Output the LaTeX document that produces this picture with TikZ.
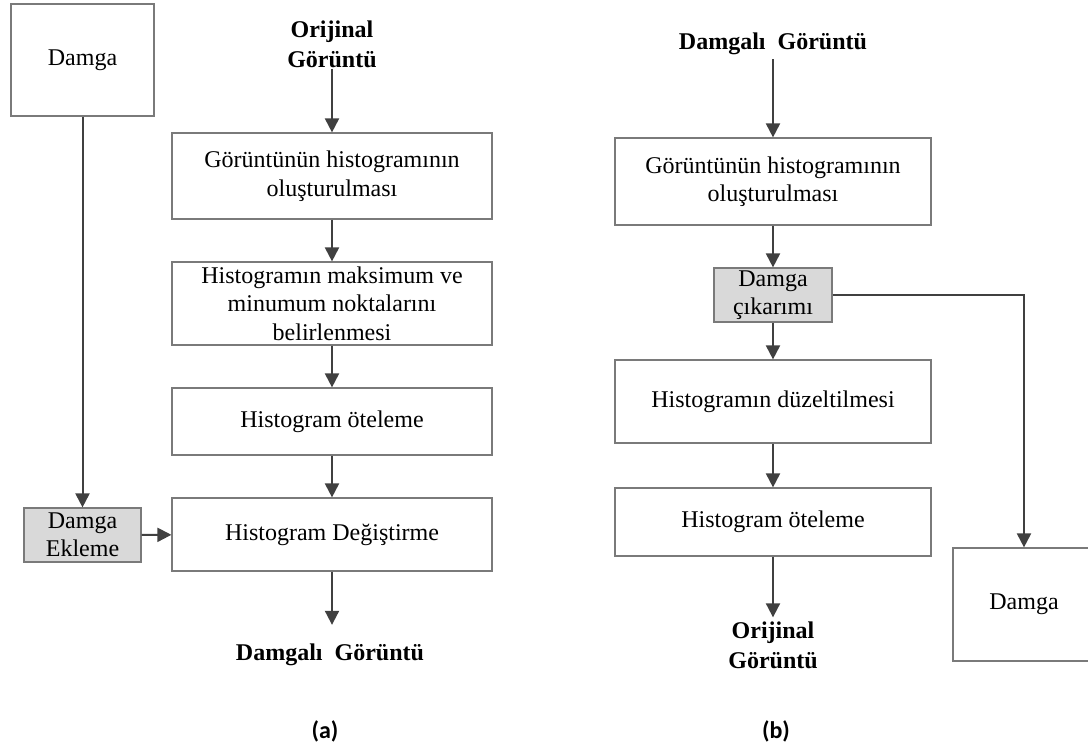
\documentclass[tikz,border=0pt]{standalone}
\usepackage{fontspec}
\setmainfont{Liberation Serif}
\newfontfamily\lblfont{Carlito}
\usetikzlibrary{arrows.meta}
\definecolor{boxgray}{HTML}{7A7A7A}
\definecolor{arrgray}{HTML}{404040}
\definecolor{fillgray}{HTML}{D9D9D9}
\newcommand{\normtxt}{\fontsize{24}{28.5}\selectfont}
\newcommand{\boldtxt}{\fontsize{24}{30}\selectfont\bfseries}
\tikzset{
  box/.style={draw=boxgray, line width=1.2pt, rectangle, inner sep=0pt, align=center, font=\normtxt},
  gbox/.style={box, fill=fillgray},
  ttl/.style={inner sep=1pt, align=center, font=\boldtxt},
  arr/.style={draw=arrgray, line width=2pt, -{Triangle[length=14pt,width=14pt]}},
  lbl/.style={font=\lblfont\fontsize{24}{28}\selectfont\bfseries}
}
\begin{document}
\begin{tikzpicture}[x=1pt,y=-1pt]
\useasboundingbox (0,0) rectangle (1088,747);
% ---------- (a) ----------
\node[box, minimum width=143pt, minimum height=112pt] (dam1) at (82.5,60) {Damga};
\node[gbox, minimum width=117pt, minimum height=54pt] (ekle) at (82.5,535) {Damga\\Ekleme};
\node[ttl] (aT) at (332,44) {Orijinal\\Görüntü};
\node[box, minimum width=320pt, minimum height=86pt] (a1) at (332,176) {Görüntünün histogramının\\oluşturulması};
\node[box, minimum width=320pt, minimum height=83pt] (a2) at (332,303.5) {Histogramın maksimum ve\\minumum noktalarını\\belirlenmesi};
\node[box, minimum width=320pt, minimum height=67pt] (a3) at (332,421.5) {Histogram öteleme};
\node[box, minimum width=320pt, minimum height=73pt] (a4) at (332,534.5) {Histogram Değiştirme};
\node[ttl, inner sep=4pt] (aB) at (330,655) {Damgalı\ \ Görüntü};
\draw[arr] (dam1) -- (ekle);
\draw[arr] (ekle) -- (a4);
\draw[arr] (aT) -- (a1);
\draw[arr] (a1) -- (a2);
\draw[arr] (a2) -- (a3);
\draw[arr] (a3) -- (a4);
\draw[arr, shorten >=15pt] (a4.south) -- (a4.south |- aB.north);
% ---------- (b) ----------
\node[ttl, inner sep=4pt] (bT) at (773,44) {Damgalı\ \ Görüntü};
\node[box, minimum width=316pt, minimum height=87pt] (b1) at (773,181.5) {Görüntünün histogramının\\oluşturulması};
\node[gbox, minimum width=118pt, minimum height=54pt] (b2) at (773,295) {Damga\\çıkarımı};
\node[box, minimum width=316pt, minimum height=83pt] (b3) at (773,401.5) {Histogramın düzeltilmesi};
\node[box, minimum width=316pt, minimum height=68pt] (b4) at (773,522) {Histogram öteleme};
\node[ttl, inner sep=4pt] (bB) at (773,645) {Orijinal\\Görüntü};
\node[box, minimum width=142pt, minimum height=113pt] (dam2) at (1024,604.5) {Damga};
\draw[arr] (bT) -- (b1);
\draw[arr] (b1) -- (b2);
\draw[arr] (b2) -- (b3);
\draw[arr] (b3) -- (b4);
\draw[arr] (b4) -- (bB);
\draw[arr] (b2.east) -| (dam2.north);
% ---------- labels ----------
\node[lbl] (la) at (325,731) {(a)};
\node[lbl] (lb) at (776,731) {(b)};
\end{tikzpicture}
\end{document}
